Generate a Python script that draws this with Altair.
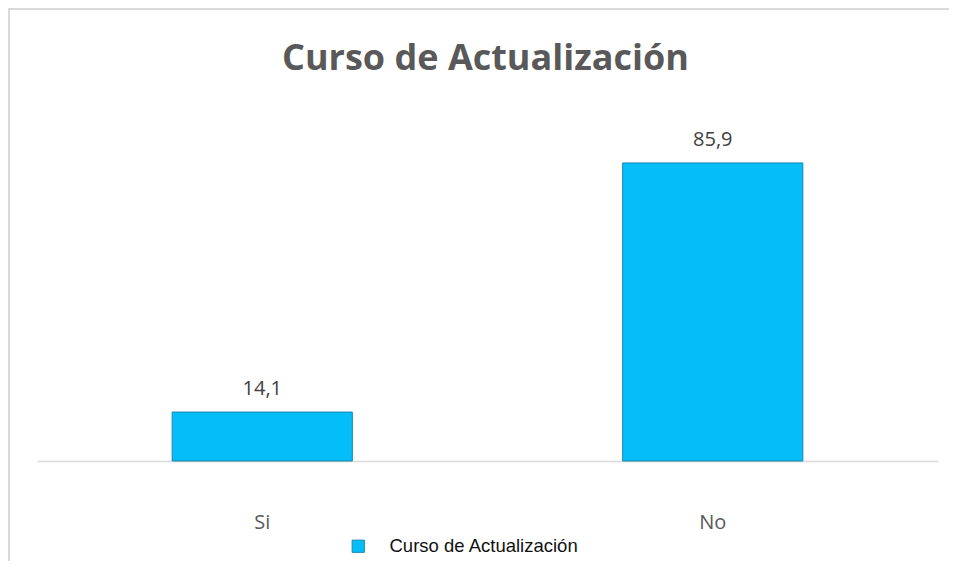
import altair as alt
import pandas as pd

categories = ["Si", "No"]
values = [14.1, 85.9]
series_name = "Curso de Actualización"
title_text = "Curso de Actualización"

df = pd.DataFrame({
    "cat": categories,
    "val": values,
    "label": [f"{v:.1f}".replace(".", ",") for v in values],
    "serie": [series_name] * len(values),
})

BAR = "#05BEF9"
W, H = 901, 347

x_enc = alt.X("cat:N", sort=categories, title=None,
              scale=alt.Scale(paddingInner=0.6, paddingOuter=0.3),
              axis=alt.Axis(labelAngle=0, ticks=False, domainColor="#D9D9D9",
                            domainWidth=1.5, labelFont="Open Sans", labelFontSize=20,
                            labelColor="#595959", labelPadding=51, grid=False))
y_enc = alt.Y("val:Q", scale=alt.Scale(domain=[0, 100], nice=False), axis=None)

base = alt.Chart(df)

bars = base.mark_bar(stroke="#1C86AE", strokeWidth=1).encode(
    x=x_enc, y=y_enc,
    color=alt.Color("serie:N", scale=alt.Scale(domain=[series_name], range=[BAR]),
                    legend=alt.Legend(title=None, orient="none", legendX=312, legendY=423,
                                      symbolType="square", symbolSize=150,
                                      symbolStrokeColor="#1C86AE", symbolStrokeWidth=1,
                                      labelFont="Liberation Sans", labelFontSize=18.5,
                                      labelColor="#111111", labelOffset=22, labelLimit=0)),
)

labels = base.mark_text(baseline="alphabetic", dy=-17, font="Open Sans", fontSize=20,
                        color="#404040").encode(x=x_enc, y=y_enc, text="label:N")

border = alt.Chart(alt.Data(values=[{}])).mark_rect(
    fill=None, stroke="#D9D9D9", strokeWidth=2
).encode(x=alt.value(-28), x2=alt.value(1100), y=alt.value(-105), y2=alt.value(1000))

title = alt.Chart(alt.Data(values=[{}])).mark_text(
    text=title_text, font="Open Sans", fontSize=36, fontWeight="bold",
    color="#595959", align="center", baseline="alphabetic"
).encode(x=alt.value(W / 2 - 2), y=alt.value(-44))

chart = alt.layer(border, bars, labels, title).properties(
    width=W, height=H,
    autosize=alt.AutoSizeParams(type="none"),
    padding={"left": 29, "top": 106, "right": 11, "bottom": 100},
    background="white",
).configure_view(strokeWidth=0, stroke=None)

chart.save("out.html", embed_options={"renderer": "svg", "actions": False})
